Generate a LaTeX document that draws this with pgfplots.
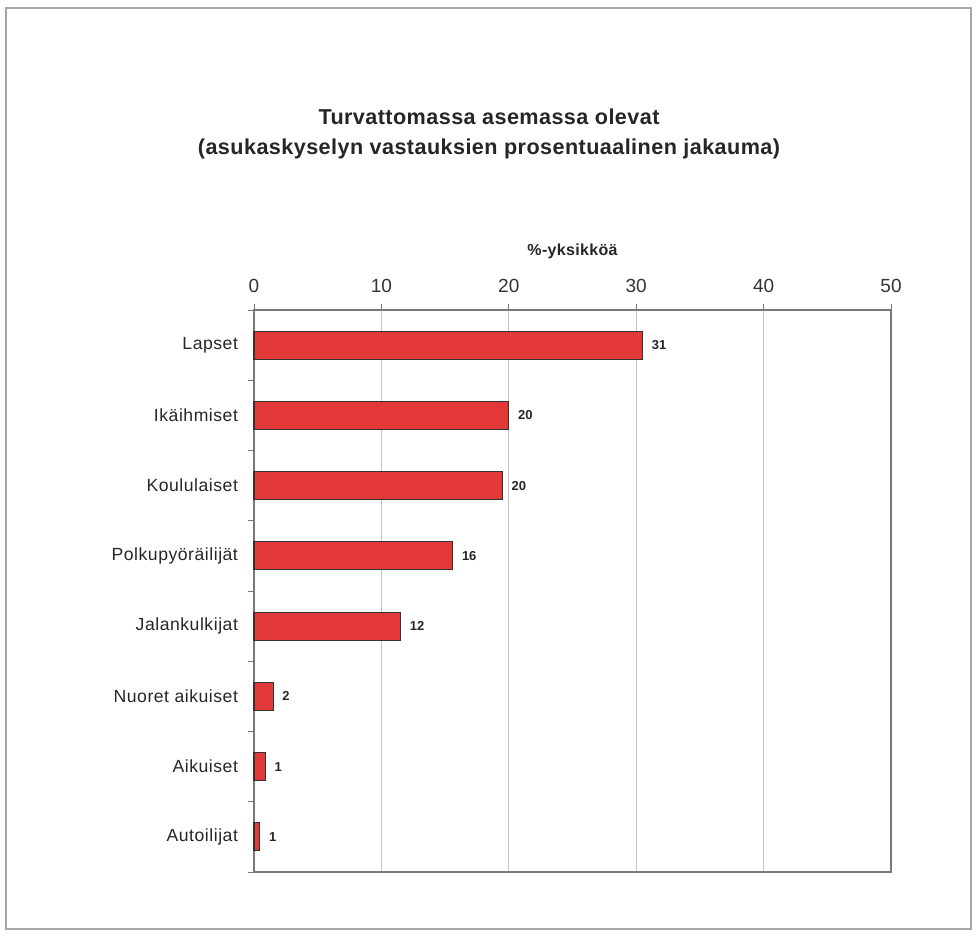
\documentclass[border=0pt]{standalone}
\usepackage{fontspec}
\setmainfont{Liberation Sans}
\newfontfamily\spaced[LetterSpace=3]{Liberation Sans}
\newfontfamily\tspaced[LetterSpace=2]{Liberation Sans}
\usepackage{pgfplots}
\pgfplotsset{compat=1.18}
\definecolor{barred}{RGB}{226,56,56}
\definecolor{axgray}{RGB}{120,120,120}
\begin{document}
\begin{tikzpicture}
\useasboundingbox (0,0) rectangle (488.5pt,468pt);
\draw[gray!70, line width=0.6pt] (3pt,3.5pt) rectangle (485.5pt,464pt);
\node[align=center, font=\tspaced\fontsize{10.8pt}{15pt}\selectfont\bfseries, text=black!85] at (244.5pt,401pt)
  {Turvattomassa asemassa olevat\\(asukaskyselyn vastauksien prosentuaalinen jakauma)};
\begin{axis}[
  at={(127pt,32pt)}, anchor=south west,
  scale only axis, width=318.5pt, height=281pt,
  xmin=0, xmax=50, ymin=0.5, ymax=8.5, y dir=reverse,
  xtick={0,10,...,50},
  xticklabel pos=upper, xtick pos=upper,
  ytick pos=left,
  ytick={1,...,8},
  yticklabels={Lapset,Ikäihmiset,Koululaiset,Polkupyöräilijät,Jalankulkijat,Nuoret aikuiset,Aikuiset,Autoilijat},
  minor ytick={0.5,1.5,...,8.5},
  major tick length=0pt,
  minor tick length=3pt,
  tick align=outside,
  every minor tick/.style={axgray, line width=0.5pt},
  every major tick/.style={axgray, line width=0.5pt},
  extra x ticks={0,10,20,30,40,50},
  extra x tick labels={},
  extra x tick style={major tick length=3pt, grid=none},
  axis line style={axgray, line width=0.7pt},
  xmajorgrids, grid style={gray!45, line width=0.5pt},
  /pgf/number format/assume math mode=true,
  xticklabel style={font=\fontsize{9.5pt}{11pt}\selectfont, text=black!80, yshift=5pt},
  yticklabel style={font=\spaced\fontsize{8.8pt}{10pt}\selectfont, text=black!85, xshift=-4.5pt},
  xbar, bar width=14pt,
  nodes near coords, point meta=explicit symbolic,
  every node near coord/.append style={font=\fontsize{6.5pt}{8pt}\selectfont\bfseries, text=black!85, anchor=west, xshift=1pt},
  clip=false,
]
\addplot[fill=barred, draw=black!80, line width=0.6pt] coordinates {
  (30.5,1) [31]
  (20.0,2) [20]
  (19.5,3) [20]
  (15.6,4) [16]
  (11.5,5) [12]
  (1.5,6) [2]
  (0.9,7) [1]
  (0.45,8) [1]
};
\node[font=\tspaced\fontsize{8pt}{10pt}\selectfont\bfseries, text=black!85] at (rel axis cs:0.5,1) [yshift=29.5pt] {\%-yksikköä};
\end{axis}
\end{tikzpicture}
\end{document}
